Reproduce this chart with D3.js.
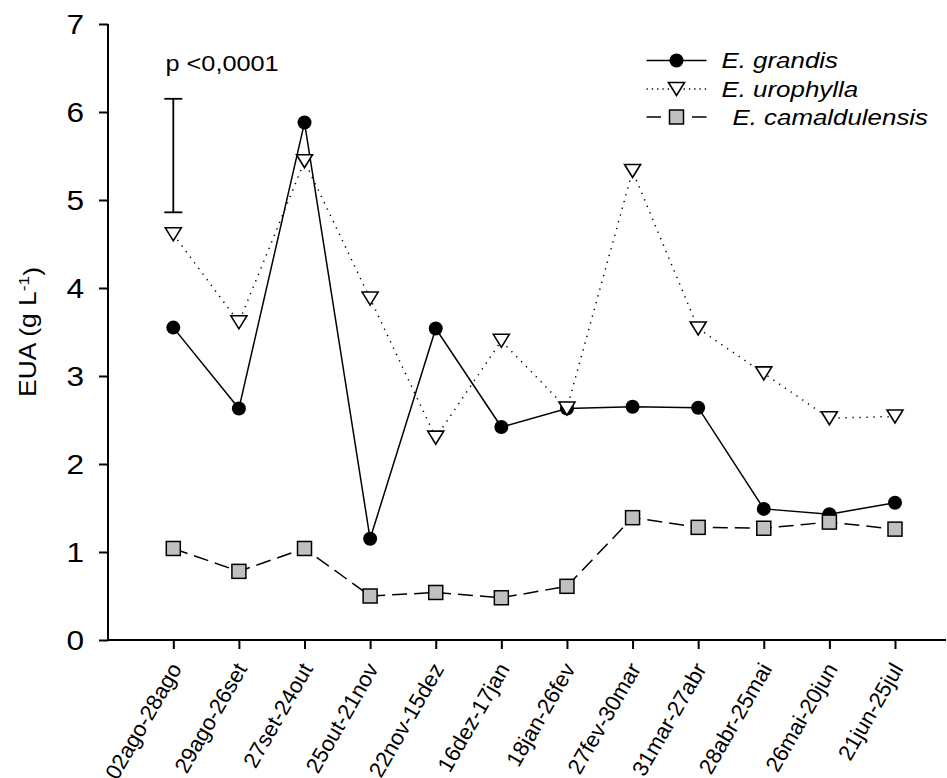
<!DOCTYPE html>
<html>
<head>
<meta charset="utf-8">
<script src="https://cdn.jsdelivr.net/npm/d3@7"></script>
<style>
  html, body { margin: 0; padding: 0; background: #fff; }
  svg { display: block; }
  text { font-family: "Liberation Sans", Arial, Helvetica, sans-serif; fill: #000; }
</style>
</head>
<body>
<svg id="chart" width="947" height="778"></svg>
<script>
// Sampling periods (x categories)
const categories = [
  "02ago-28ago", "29ago-26set", "27set-24out", "25out-21nov",
  "22nov-15dez", "16dez-17jan", "18jan-26fev", "27fev-30mar",
  "31mar-27abr", "28abr-25mai", "26mai-20jun", "21jun-25jul"
];

// EUA (g L-1) per species
const grandis       = [3.55, 2.63, 5.88, 1.15, 3.54, 2.42, 2.63, 2.65, 2.64, 1.49, 1.43, 1.56];
const urophylla     = [4.61, 3.61, 5.44, 3.88, 2.30, 3.40, 2.63, 5.33, 3.54, 3.03, 2.52, 2.54];
const camaldulensis = [1.04, 0.78, 1.04, 0.50, 0.54, 0.48, 0.61, 1.39, 1.28, 1.27, 1.34, 1.26];

const seriesNames = ["E. grandis", "E. urophylla", "E. camaldulensis"];
const yTicks = [0, 1, 2, 3, 4, 5, 6, 7];

// LSD bar drawn at the first period
const lsdRange = [4.86, 6.15];
const pLabel = "p <0,0001";

const svg = d3.select("#chart");
const STRETCH = 1.15;   // horizontal stretch of the wide typeface

const x = d3.scalePoint().domain(categories).range([173.3, 895]);
const y = d3.scaleLinear().domain([0, 7]).range([640, 24]);
const axisLeftX = 108, axisRightX = 946;

// ---- axes ----
const yAxis = svg.append("g")
  .attr("transform", `translate(${axisLeftX},0)`)
  .call(d3.axisLeft(y).tickValues(yTicks).tickSize(9).tickFormat(d3.format("d")));
yAxis.select(".domain").remove();
yAxis.selectAll(".tick line").attr("stroke", "#000").attr("stroke-width", 2);
yAxis.selectAll(".tick text")
  .attr("x", null).attr("dy", null)
  .attr("transform", `translate(-24,0) scale(${STRETCH},1)`)
  .attr("dominant-baseline", "central")
  .attr("text-anchor", "end")
  .style("font-size", "27.5px");

const xAxis = svg.append("g")
  .attr("transform", `translate(0,${y(0)})`)
  .call(d3.axisBottom(x).tickSize(9));
xAxis.select(".domain").remove();
xAxis.selectAll(".tick line").attr("stroke", "#000").attr("stroke-width", 2);
xAxis.selectAll(".tick text")
  .attr("y", null).attr("dy", null)
  .attr("transform", "translate(2,25) rotate(-60)")
  .attr("dominant-baseline", "central")
  .attr("text-anchor", "end")
  .style("font-size", "22px");

// axis lines
svg.append("line")
  .attr("x1", axisLeftX).attr("x2", axisLeftX)
  .attr("y1", y(7)).attr("y2", y(0) + 1)
  .attr("stroke", "#000").attr("stroke-width", 2);
svg.append("line")
  .attr("x1", axisLeftX - 1).attr("x2", axisRightX)
  .attr("y1", y(0)).attr("y2", y(0))
  .attr("stroke", "#000").attr("stroke-width", 2);

// y axis title
const yTitle = svg.append("text")
  .attr("transform", `translate(36,${(y(0) + y(7)) / 2}) rotate(-90) scale(${STRETCH},1)`)
  .attr("text-anchor", "middle")
  .style("font-size", "23px");
yTitle.append("tspan").text("EUA (g L");
yTitle.append("tspan").attr("dy", "-0.5em").style("font-size", "15px").text("-1");
yTitle.append("tspan").attr("dy", "0.5em").text(")");

// ---- series ----
const points = arr => arr.map((v, i) => [x(categories[i]), y(v)]);
const line = d3.line();

const triPath = (w, h) => `M${-w / 2},${-h / 2}L${w / 2},${-h / 2}L0,${h / 2}Z`;

const styles = [
  { data: grandis,       dash: null,      marker: "circle" },
  { data: urophylla,     dash: "1.3,5.7", marker: "triangle" },
  { data: camaldulensis, dash: "15,7",    marker: "square" }
];

function drawMarker(g, kind, cx, cy) {
  if (kind === "circle") {
    g.append("circle").attr("cx", cx).attr("cy", cy).attr("r", 7).attr("fill", "#000");
  } else if (kind === "triangle") {
    g.append("path").attr("d", triPath(16, 13))
      .attr("transform", `translate(${cx},${cy})`)
      .attr("fill", "#fff").attr("stroke", "#000").attr("stroke-width", 1.6)
      .attr("stroke-linejoin", "miter");
  } else {
    g.append("rect").attr("x", cx - 7).attr("y", cy - 7).attr("width", 14).attr("height", 14)
      .attr("fill", "#c0c0c0").attr("stroke", "#000").attr("stroke-width", 1.5);
  }
}

styles.forEach(s => {
  const g = svg.append("g");
  const p = points(s.data);
  g.append("path").attr("d", line(p))
    .attr("fill", "none").attr("stroke", "#000").attr("stroke-width", 1.5)
    .attr("stroke-dasharray", s.dash);
  p.forEach(([cx, cy]) => drawMarker(g, s.marker, cx, cy));
});

// ---- LSD bar and p value ----
const bx = x(categories[0]);
const lsd = svg.append("g").attr("stroke", "#000").attr("stroke-width", 1.8);
lsd.append("line").attr("x1", bx).attr("x2", bx).attr("y1", y(lsdRange[0])).attr("y2", y(lsdRange[1]));
lsd.append("line").attr("x1", bx - 9).attr("x2", bx + 9).attr("y1", y(lsdRange[0])).attr("y2", y(lsdRange[0]));
lsd.append("line").attr("x1", bx - 9).attr("x2", bx + 9).attr("y1", y(lsdRange[1])).attr("y2", y(lsdRange[1]));

svg.append("text")
  .attr("transform", `translate(165.5,70.5) scale(${STRETCH},1)`)
  .style("font-size", "22px")
  .text(pLabel);

// ---- legend ----
const legRows = [60.5, 89, 117];
const legTextX = [721.5, 721.5, 732.5];
styles.forEach((s, i) => {
  const g = svg.append("g");
  const ly = legRows[i];
  if (s.marker === "square") {
    g.append("line").attr("x1", 646.5).attr("x2", 661).attr("y1", ly).attr("y2", ly)
      .attr("stroke", "#000").attr("stroke-width", 1.5);
    g.append("line").attr("x1", 692).attr("x2", 706.5).attr("y1", ly).attr("y2", ly)
      .attr("stroke", "#000").attr("stroke-width", 1.5);
  } else {
    g.append("line").attr("x1", 646.5).attr("x2", 706.5).attr("y1", ly).attr("y2", ly)
      .attr("stroke", "#000").attr("stroke-width", 1.5)
      .attr("stroke-dasharray", s.dash ? "1.3,4" : null);
  }
  drawMarker(g, s.marker, 676.5, ly);
  g.append("text")
    .attr("transform", `translate(${legTextX[i]},${ly}) scale(${STRETCH},1)`)
    .attr("dominant-baseline", "central")
    .style("font-size", "22.5px").style("font-style", "italic")
    .text(seriesNames[i]);
});
</script>
</body>
</html>
